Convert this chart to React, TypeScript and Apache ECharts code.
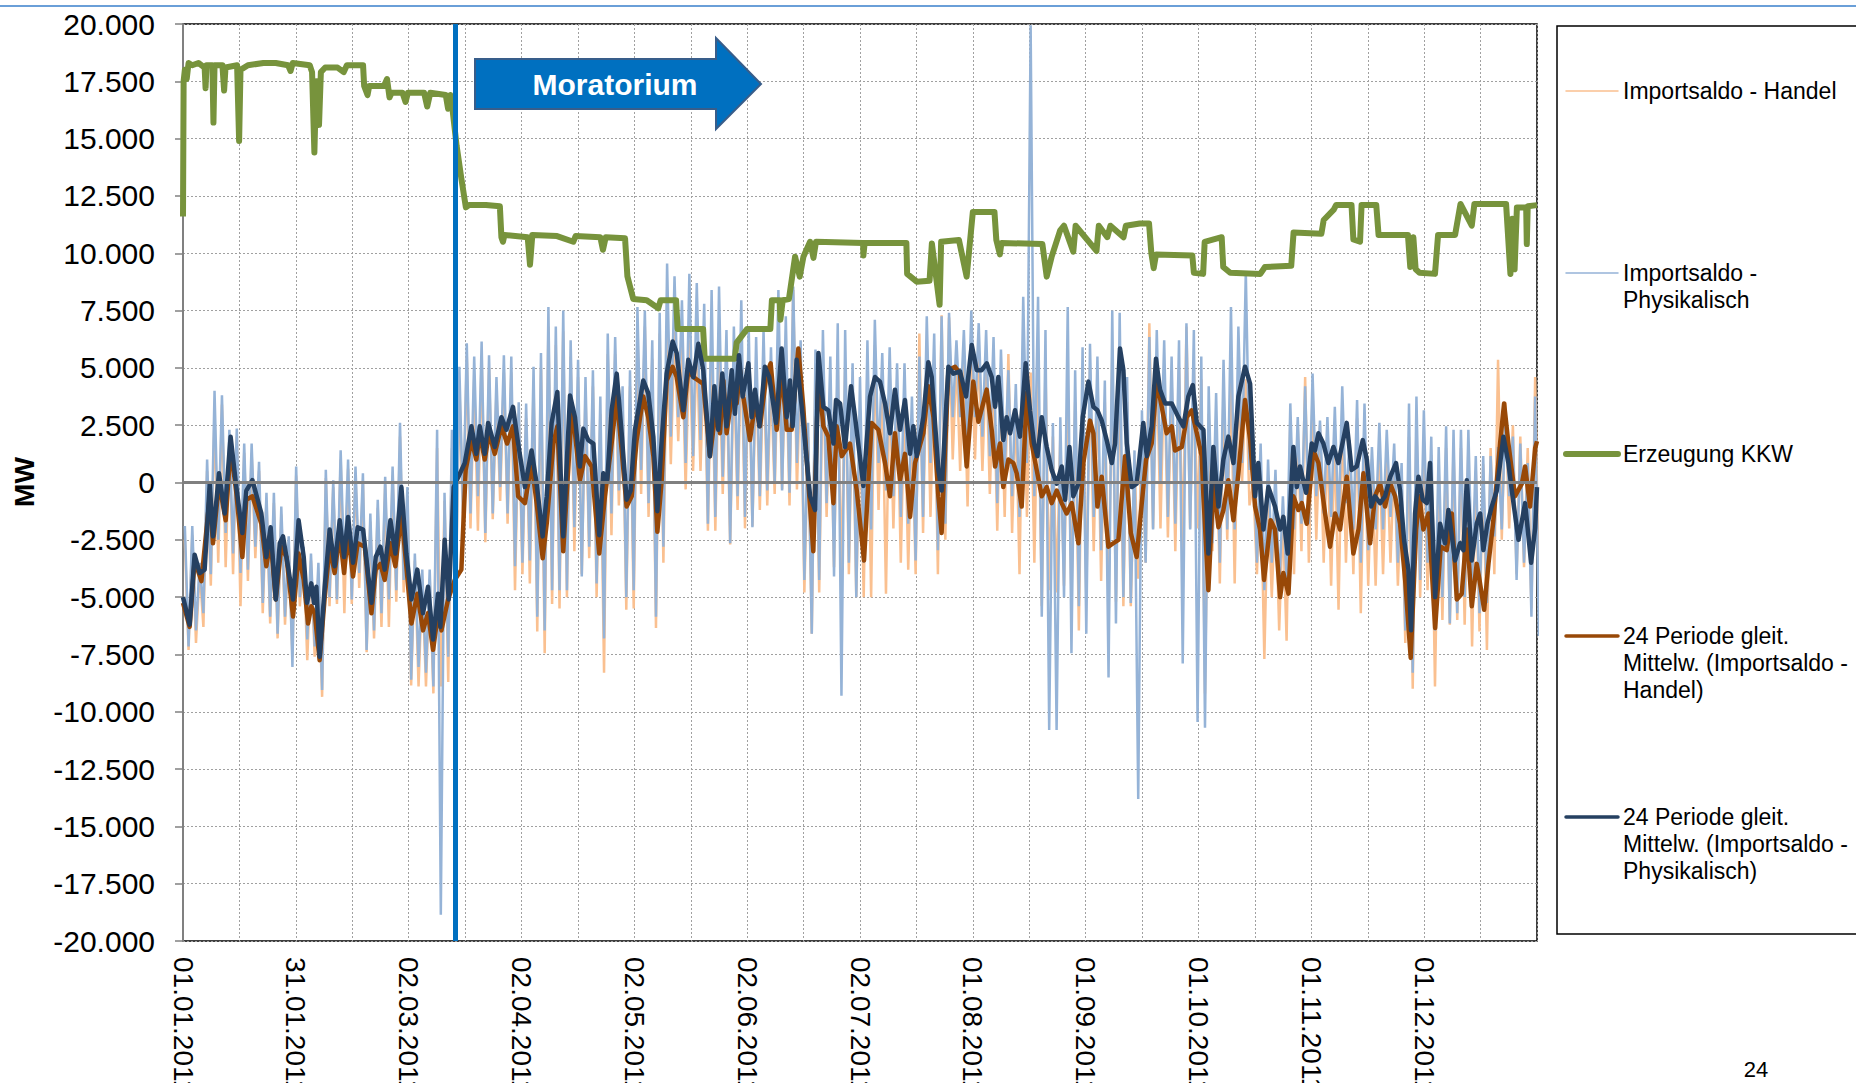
import React, { useEffect, useRef } from "react";
import * as echarts from "echarts";

// X axis: hours of 2011 (0 .. 8760); tick labels every 730 hours
const xTickLabels = ["01.01.2011", "31.01.2011", "02.03.2011", "02.04.2011", "02.05.2011", "02.06.2011", "02.07.2011", "01.08.2011", "01.09.2011", "01.10.2011", "01.11.2011", "01.12.2011"];
const HOURS_PER_LABEL = 730;
const GRID_HOURS = 365;
const TOTAL_HOURS = 8760;
const BIN_HOURS = 48;
const moratoriumHour = 1764;

// Erzeugung KKW [hour, MW]
const kkw: [number, number][] = [
  [0, 11600], [4, 17500], [12, 18000], [24, 17600], [36, 18300], [60, 18200], [100, 18300], [140, 18100], [146, 17200], [152, 18200], [190, 18200], [197, 15700], [204, 18200], [255, 18200], [266, 17100], [275, 18100], [350, 18200], [363, 14900], [372, 18000], [420, 18200], [520, 18300], [600, 18300], [680, 18200], [696, 17950], [710, 18300], [820, 18200], [835, 17900], [850, 14400], [862, 17500], [880, 15600], [892, 17900], [920, 18100], [1000, 18100], [1040, 17900], [1060, 18200], [1165, 18200], [1172, 17300], [1194, 16900], [1205, 17300], [1300, 17300], [1320, 17600], [1336, 16800], [1350, 17000], [1420, 17000], [1440, 16600], [1455, 17000], [1560, 17000], [1580, 16400], [1600, 17000], [1700, 16900], [1715, 16300], [1730, 16900], [1745, 16200], [1770, 14700], [1800, 13300], [1830, 12000], [1850, 12100], [1960, 12100], [2050, 12050], [2060, 10700], [2070, 10500], [2080, 10800], [2230, 10700], [2245, 9500], [2260, 10800], [2420, 10750], [2525, 10500], [2540, 10750], [2700, 10700], [2717, 10150], [2735, 10700], [2860, 10650], [2875, 9000], [2913, 8000], [3000, 7950], [3075, 7600], [3090, 7950], [3190, 7950], [3200, 6700], [3365, 6700], [3375, 5400], [3570, 5400], [3582, 6100], [3650, 6700], [3800, 6700], [3810, 7950], [3860, 7950], [3865, 7100], [3880, 7950], [3920, 8000], [3960, 9850], [3990, 8980], [4014, 9850], [4057, 10500], [4079, 9800], [4095, 10500], [4400, 10450], [4402, 9900], [4410, 10450], [4680, 10450], [4685, 9100], [4747, 8760], [4830, 8800], [4845, 10430], [4895, 7750], [4905, 10500], [5020, 10580], [5070, 8980], [5110, 11800], [5250, 11800], [5262, 10580], [5285, 9950], [5295, 10450], [5560, 10400], [5588, 8980], [5620, 9850], [5675, 11000], [5700, 11200], [5760, 10070], [5775, 11200], [5910, 10100], [5925, 11200], [5980, 10700], [6000, 11200], [6085, 10700], [6100, 11200], [6190, 11300], [6250, 11300], [6265, 10000], [6280, 9350], [6295, 9950], [6530, 9900], [6540, 9150], [6600, 9100], [6610, 10500], [6720, 10700], [6730, 9400], [6775, 9150], [6970, 9100], [7000, 9400], [7170, 9450], [7185, 10900], [7365, 10850], [7380, 11450], [7445, 11900], [7460, 12100], [7560, 12100], [7572, 10600], [7615, 10500], [7625, 12100], [7720, 12100], [7735, 10800], [7925, 10800], [7940, 9400], [7960, 10700], [7975, 9300], [8000, 9150], [8100, 9100], [8120, 10800], [8230, 10800], [8265, 12150], [8338, 11200], [8355, 12150], [8560, 12150], [8588, 9100], [8600, 11500], [8615, 9300], [8630, 12000], [8690, 12000], [8694, 10400], [8700, 12050], [8760, 12100]
];

// 24 Periode gleit. Mittelw. (Importsaldo - Physikalisch) [hour, MW]
const physMa: [number, number][] = [
  [0, -5000], [43, -6200], [75, -3150], [108, -3950], [140, -3800], [173, -50], [194, -2350], [233, 400], [270, -1350], [308, 2000], [345, -200], [384, -2200], [410, -350], [449, 100], [507, -1350], [539, -3250], [567, -1950], [600, -5100], [626, -2650], [647, -2350], [679, -3650], [712, -5100], [748, -1650], [781, -3250], [802, -5250], [830, -4400], [848, -5250], [863, -4550], [884, -7600], [917, -4550], [949, -2050], [981, -3650], [1014, -1650], [1042, -3250], [1068, -1500], [1100, -3500], [1130, -1950], [1165, -2050], [1219, -5250], [1247, -3250], [1277, -2800], [1305, -3800], [1342, -1650], [1374, -3100], [1413, -200], [1445, -3100], [1478, -5100], [1516, -3800], [1553, -5700], [1585, -4550], [1618, -6850], [1650, -4850], [1665, -6300], [1693, -2500], [1719, -5100], [1751, -200], [1823, 850], [1866, 2450], [1898, 1250], [1920, 2450], [1952, 1250], [1974, 2600], [2017, 1550], [2060, 2850], [2092, 2300], [2135, 3300], [2165, 1850], [2212, -200], [2255, 1400], [2288, -50], [2327, -2350], [2353, -600], [2385, 2600], [2422, 3950], [2460, -2350], [2504, 3800], [2536, 2850], [2568, 700], [2590, 2350], [2622, 1850], [2655, 1700], [2693, -2300], [2719, 400], [2745, 100], [2773, 3150], [2806, 4750], [2838, 2150], [2870, -750], [2896, -350], [2924, 2300], [2978, 4450], [3010, 3900], [3043, 2000], [3069, -1250], [3097, 1850], [3129, 4750], [3168, 6150], [3194, 5650], [3237, 3150], [3269, 5350], [3302, 4600], [3334, 6050], [3366, 4900], [3409, 1150], [3438, 4200], [3463, 2300], [3489, 4750], [3517, 2450], [3550, 4900], [3571, 3000], [3597, 5550], [3621, 3750], [3658, 5200], [3679, 2850], [3701, 4050], [3729, 2450], [3765, 5050], [3793, 4600], [3837, 2600], [3873, 5850], [3906, 2850], [3927, 4450], [3944, 2450], [3970, 5350], [4003, 3300], [4035, 1000], [4057, -600], [4089, -1200], [4111, 5650], [4143, 3300], [4175, 3150], [4208, 1700], [4225, 3600], [4251, 3450], [4283, 1550], [4322, 4200], [4348, 2850], [4402, -150], [4445, 3750], [4477, 4600], [4509, 4400], [4542, 3450], [4574, 2150], [4606, 4050], [4639, 2300], [4671, 3600], [4704, 1250], [4725, 2450], [4747, 1150], [4790, 2850], [4822, 5250], [4844, 4600], [4887, 550], [4908, -350], [4952, 5050], [4984, 4750], [5027, 4850], [5066, 3750], [5103, 6000], [5135, 4900], [5167, 4900], [5200, 5200], [5232, 4600], [5254, 3300], [5275, 4600], [5307, 1850], [5329, 2850], [5351, 2150], [5383, 3150], [5415, 2000], [5452, 5200], [5480, 3150], [5506, 1700], [5528, 1150], [5556, 2850], [5588, 1550], [5620, 550], [5653, -50], [5685, 700], [5707, -750], [5735, 1550], [5760, -600], [5793, -50], [5821, 2850], [5858, 4400], [5890, 3300], [5916, 3150], [5944, 2700], [5976, 1850], [6009, 850], [6030, 1700], [6062, 5850], [6084, 4900], [6106, 1700], [6138, -200], [6170, -50], [6213, 2600], [6235, 1150], [6267, 2450], [6295, 5400], [6321, 4050], [6354, 3450], [6397, 3450], [6440, 2850], [6472, 2450], [6504, 3750], [6533, 4250], [6559, 2600], [6602, 2300], [6634, -3100], [6666, 1550], [6699, -1050], [6731, 1000], [6763, 2000], [6796, 850], [6828, 3750], [6871, 5050], [6904, 4300], [6936, -600], [6957, 850], [6990, -2050], [7022, -200], [7065, -1050], [7098, -2050], [7119, -1500], [7147, -3100], [7184, 1550], [7206, -200], [7227, 700], [7266, -450], [7303, 1700], [7324, 1400], [7346, 2150], [7378, 1700], [7410, 850], [7443, 1550], [7475, 850], [7529, 2600], [7561, 550], [7594, 700], [7633, 1850], [7659, 1000], [7687, -1050], [7712, -600], [7745, -900], [7777, -600], [7810, 250], [7848, 850], [7874, -350], [7900, -2500], [7928, -3800], [7945, -6450], [7971, -1350], [7993, 250], [8021, -750], [8047, -900], [8068, 850], [8101, -5000], [8133, -1800], [8165, -2650], [8187, -1200], [8230, -3400], [8262, -2650], [8284, -2950], [8306, 100], [8338, -3400], [8370, -1800], [8392, -1350], [8413, -2950], [8439, -1800], [8467, -1050], [8500, -350], [8543, 2000], [8575, 850], [8597, -350], [8640, -2500], [8683, -900], [8722, -3500], [8748, -2000], [8760, -200]
];

// 24 Periode gleit. Mittelw. (Importsaldo - Handel) [hour, MW]
const handelMa: [number, number][] = [
  [0, -5250], [43, -6300], [75, -3400], [119, -4300], [173, -600], [194, -2650], [233, 0], [276, -1650], [308, 1550], [345, -450], [384, -3250], [410, -750], [449, -600], [507, -1800], [539, -3650], [567, -2500], [600, -5100], [636, -2800], [669, -3250], [712, -5850], [748, -3100], [781, -4250], [809, -6150], [830, -5400], [852, -5700], [884, -7750], [917, -5000], [949, -2800], [981, -3950], [1014, -2200], [1042, -3950], [1068, -2200], [1100, -4100], [1130, -2650], [1176, -2800], [1219, -5700], [1247, -3800], [1277, -3550], [1305, -4250], [1342, -2650], [1374, -3650], [1413, -1350], [1445, -3650], [1478, -6150], [1516, -4850], [1553, -6450], [1585, -5700], [1618, -7300], [1650, -5700], [1672, -6450], [1715, -5100], [1758, -4250], [1801, -3800], [1829, 550], [1866, 1850], [1898, 1000], [1920, 2150], [1952, 1000], [1980, 2150], [2017, 1250], [2060, 2450], [2097, 1700], [2135, 2450], [2168, -600], [2212, -900], [2255, 850], [2288, -900], [2327, -3300], [2353, -1800], [2396, 1700], [2422, 2450], [2460, -3000], [2514, 3000], [2536, 2150], [2568, 100], [2601, 1150], [2644, 700], [2693, -3100], [2730, -600], [2773, 1700], [2806, 3750], [2838, 1400], [2870, -1050], [2903, -600], [2935, 1850], [2978, 3750], [3010, 2850], [3043, 1150], [3069, -2150], [3097, 100], [3129, 4450], [3168, 5050], [3194, 4600], [3237, 2850], [3269, 4900], [3302, 4600], [3334, 4450], [3366, 4300], [3409, 1150], [3453, 3450], [3474, 2150], [3496, 4450], [3517, 2150], [3560, 4200], [3582, 3450], [3604, 4900], [3625, 3750], [3668, 1850], [3701, 3450], [3733, 2450], [3776, 4750], [3802, 5200], [3841, 2300], [3873, 4900], [3906, 2300], [3938, 2300], [3981, 5850], [4013, 3300], [4035, 1000], [4078, -3000], [4111, 4750], [4143, 2450], [4175, 2000], [4208, -900], [4229, 2450], [4262, 1150], [4315, 1700], [4359, -350], [4406, -3400], [4455, 2600], [4499, 2300], [4542, 850], [4574, -600], [4606, 2150], [4639, 100], [4671, 1250], [4704, -1500], [4736, 850], [4790, 2150], [4822, 4200], [4855, 2850], [4887, -600], [4908, -2200], [4952, 4900], [4995, 5050], [5027, 4750], [5070, 700], [5113, 4400], [5146, 2650], [5200, 4050], [5232, 2300], [5254, 700], [5286, 1700], [5307, -200], [5340, 1000], [5372, 850], [5394, 400], [5426, -1050], [5459, 3900], [5491, 1700], [5523, 550], [5556, -600], [5588, -200], [5620, -900], [5653, -350], [5685, -900], [5717, -1350], [5750, -900], [5793, -2650], [5825, 850], [5868, 2700], [5890, 2150], [5916, -1050], [5944, 250], [5987, -2800], [6019, -2650], [6052, -2500], [6095, 1150], [6132, -2200], [6170, -3250], [6203, -900], [6231, 1000], [6267, 1700], [6300, 4450], [6332, 3300], [6364, 2150], [6397, 2450], [6418, 1400], [6462, 1550], [6494, 2850], [6526, 3150], [6559, 2150], [6591, 1150], [6602, -600], [6634, -4700], [6666, -50], [6699, -1950], [6731, -1200], [6763, 100], [6796, -1650], [6828, 400], [6871, 3600], [6904, 1850], [6936, -1050], [6968, -2050], [6994, -4250], [7037, -1650], [7065, -2050], [7098, -5000], [7119, -3950], [7152, -4850], [7184, -600], [7216, -1200], [7238, -900], [7270, -1800], [7313, 1400], [7346, 850], [7389, -1350], [7421, -2800], [7454, -1350], [7486, -2050], [7529, 250], [7572, -3100], [7605, -2050], [7637, 400], [7680, -2650], [7712, -600], [7745, -50], [7777, -1050], [7810, -50], [7842, -600], [7874, -1800], [7907, -4250], [7943, -7650], [7978, -2050], [7999, -600], [8025, -2050], [8058, -1350], [8101, -6350], [8137, -2800], [8176, -2950], [8209, -1350], [8241, -5100], [8273, -4850], [8306, -2050], [8338, -5400], [8370, -3550], [8388, -4250], [8418, -5550], [8446, -3550], [8478, -1650], [8521, 1700], [8547, 3450], [8575, 1700], [8618, -600], [8662, -50], [8683, 700], [8715, -1050], [8748, 1500], [8760, 1800]
];

// Importsaldo - Physikalisch: highest / lowest hourly value per 48-hour bin
const physHi = [-1900, -1900, -3500, 1000, 4000, 3800, 2300, 2350, 1700, 1700, 900, -450, -450, -1050, -2350, 700, -2800, -3100, -3500, 550, 100, 1400, 1000, 700, 400, -1350, -750, 250, 700, 2600, -200, -3100, -3800, -3800, 2300, -450, 2300, 5050, 6070, 5500, 6150, 5550, 4600, 5550, 5500, 3500, 3450, 5050, 5650, 7650, 6800, 7500, 6200, 5350, 4600, 4900, 3750, 6500, 6350, 4200, 4900, 7650, 7500, 6200, 7400, 9550, 9000, 7950, 9100, 8700, 7800, 8400, 8550, 6650, 6800, 7950, 6800, 6350, 6650, 5900, 8400, 7250, 8550, 6200, 2600, 5800, 6650, 5500, 6950, 6650, 5200, 4600, 6200, 7100, 5650, 5900, 5200, 5200, 3750, 5500, 7250, 6500, 7250, 7400, 6200, 6650, 7500, 6950, 6650, 6350, 5800, 4900, 4300, 8100, 19950, 8100, 6650, 2600, 2850, 7650, 4900, 5900, 6050, 5500, 4450, 7500, 7400, 4600, 1400, 3150, 6350, 6650, 6200, 5500, 6200, 6950, 6650, 5500, 4200, 3900, 5350, 7650, 6800, 9200, 1850, 1700, 1000, 550, -600, 3450, 2850, 4200, 4750, 2700, 2850, 3300, 4200, 1850, 3600, 3450, 1550, 2600, 2300, 1700, 850, 3450, 3750, 3150, 2000, 1550, 2450, 2300, 2300, 2300, 1150, 1150, 1150, 1550, 3000, 2000, 1700, 850, 3750];
const physLo = [-7150, -6450, -5700, -4000, -2500, -2200, -3100, -3950, -3800, -2800, -5250, -5850, -6600, -5850, -8050, -5000, -6850, -7150, -9050, -5000, -5100, -3950, -5100, -3950, -7300, -6450, -5700, -5100, -4700, -4250, -8600, -8050, -8300, -8900, -18850, -7600, -5500, -1350, -1350, -600, -2200, -1350, -200, -1350, -3650, -3500, -3400, -5850, -6450, -4700, -4700, -4700, -1950, -4100, -2800, -4400, -6800, -1350, -350, -5000, -4700, 550, -900, -5850, -2800, 2000, 2850, 850, 1150, 1850, -1800, -1500, 250, -2650, -600, -1500, -1950, -600, -350, 0, -350, -450, 850, -4250, -6600, -4250, -900, -4100, -9300, -3500, -5000, -3500, -2050, 850, -350, -600, -1500, -1800, -3400, -1500, 850, -2950, -1800, 2850, 2850, 1700, 2850, 2000, 1150, -900, 550, -600, -1500, 850, -600, -5850, -10800, -10800, -5000, -7450, -5400, -6600, -1500, -2950, -8500, -6150, -5000, -5250, -13800, -3500, -2050, 0, -1500, -1800, -7900, -2050, -10450, -10700, -2650, -3500, -2050, -2050, 850, 550, -3500, -4700, -3500, -4700, -4250, -2050, -1800, -1800, -600, -1350, -1500, -2050, -900, -2050, -3500, -2950, -2050, -2050, -1500, -3500, -6450, -8300, -4250, -3500, -6450, -5000, -6150, -5700, -5000, -4250, -5700, -5250, -2350, -2050, -600, -4250, -3500, -5850, -6700];

// Importsaldo - Handel: highest / lowest hourly value per 48-hour bin
const handelHi = [-2500, -2300, -3800, 500, 3000, 3400, 1800, 2000, 1300, 1300, 500, -800, -900, -1400, -2700, 300, -3100, -3400, -4000, 200, -200, 1000, 600, 300, 0, -1700, -1100, -100, 300, 2000, -600, -3400, -4200, -4200, 1500, -800, 1500, 4300, 5500, 4500, 5500, 5000, 4000, 4800, 4800, 3000, 2800, 4300, 5000, 6800, 6000, 6600, 5500, 4600, 3900, 4200, 3000, 5600, 5600, 3500, 4200, 6600, 6800, 5400, 6500, 7000, 6600, 6500, 6200, 6000, 5800, 6300, 6000, 5000, 5200, 6200, 5500, 5000, 5400, 4600, 6300, 5800, 8400, 5200, 2000, 4800, 5200, 4300, 5400, 5000, 4000, 3000, 5000, 6000, 4500, 4800, 4000, 4000, 2800, 6500, 6000, 5000, 7300, 7200, 5500, 5500, 6500, 5800, 5500, 5000, 4800, 5600, 3500, 6000, 4800, 5000, 5000, 2000, 2000, 4000, 3500, 4500, 5000, 4000, 3500, 5500, 5000, 3500, 1000, 2500, 6950, 5500, 5000, 4500, 5000, 6800, 5000, 4500, 3000, 2500, 4000, 5000, 4500, 4500, 0, 300, -400, -700, -1500, 2800, 2500, 4600, 4000, 2500, 2000, 2000, 3000, 1500, 2800, 2300, 1000, 1500, 1500, 1000, 0, 2000, 2500, 1800, 1200, 500, 1500, 1500, 1500, 1500, 500, 800, 1500, 5350, 3500, 2500, 2000, 1500, 4600];
const handelLo = [-7300, -7000, -6300, -4500, -3500, -3700, -4000, -5400, -4300, -3300, -5700, -6150, -6800, -6200, -7600, -5400, -7750, -7600, -9350, -5400, -5300, -5700, -5300, -4600, -7400, -6800, -6300, -6300, -5200, -4800, -8850, -8900, -8900, -9200, -8900, -8700, -5500, -1900, -2000, -2100, -2600, -1600, -800, -1800, -4700, -4000, -4400, -6500, -7450, -5300, -5500, -5000, -3000, -4000, -3300, -5000, -8300, -2300, -1000, -5550, -5500, -500, -1500, -6350, -3500, 800, 1800, -300, 500, 500, -2100, -2100, -500, -2700, -1200, -2000, -1900, -1200, -1000, -500, -300, -1000, -300, -4800, -6600, -4800, -1500, -3700, -4500, -4000, -5000, -5000, -5000, -1200, -4850, -2000, -3500, -3800, -4000, -2200, -1500, -4000, -2500, 1000, 500, -1050, 1000, 500, -500, -2100, -1500, -2200, -4000, -1500, -3500, -5400, -4700, -4800, -4500, -5000, -6450, -5000, -3000, -4300, -5100, -5200, -5400, -5400, -4200, -3500, -2000, -2000, -2400, -3000, -3000, -2000, -2000, -9200, -3000, -4400, -2500, -4400, 0, -1000, -4000, -7700, -5000, -6450, -6900, -4000, -3000, -3500, -2500, -3500, -4500, -5550, -3500, -4000, -5700, -4500, -4500, -4000, -3500, -4500, -7000, -9000, -5000, -4700, -8900, -6000, -6200, -6000, -6200, -7150, -6500, -7300, -4000, -2500, -2000, -4000, -3700, -5500, -5000];

const FONT = '"Liberation Sans", Arial, Helvetica, sans-serif';

function binsToSeries(hi: number[], lo: number[]): [number, number][] {
  const out: [number, number][] = [];
  for (let k = 0; k < hi.length; k++) {
    out.push([k * BIN_HOURS + BIN_HOURS / 4, hi[k]]);
    out.push([k * BIN_HOURS + (3 * BIN_HOURS) / 4, lo[k]]);
  }
  return out;
}

function fmtThousands(v: number): string {
  const s = Math.abs(v).toString().replace(/\B(?=(\d{3})+(?!\d))/g, ".");
  return (v < 0 ? "-" : "") + s;
}

const legendEntries = [
  { label: "Importsaldo - Handel", color: "#FAC090", width: 1.5, y: 91 },
  { label: "Importsaldo -\nPhysikalisch", color: "#95B3D7", width: 1.5, y: 273 },
  { label: "Erzeugung KKW", color: "#77933C", width: 6, y: 454 },
  { label: "24 Periode gleit.\nMittelw. (Importsaldo -\nHandel)", color: "#984807", width: 3.5, y: 636 },
  { label: "24 Periode gleit.\nMittelw. (Importsaldo -\nPhysikalisch)", color: "#254061", width: 3.5, y: 817 },
];

export default function App() {
  const ref = useRef<HTMLDivElement>(null);
  useEffect(() => {
    if (!ref.current) return;
    const chart = echarts.init(ref.current, undefined, { renderer: "svg" });
    const gridLine = { show: true, lineStyle: { color: "#A0A0A0", type: [2, 2] as any, width: 1 } };
    const lineBase = { type: "line" as const, showSymbol: false, symbol: "none", silent: true, animation: false, emphasis: { disabled: true } };

    const legendGraphics: any[] = [
      { type: "rect", shape: { x: 1557, y: 26, width: 330, height: 908 }, style: { fill: "#fff", stroke: "#000", lineWidth: 1.5 } },
    ];
    legendEntries.forEach((e) => {
      legendGraphics.push({ type: "line", shape: { x1: 1566, y1: e.y, x2: 1618, y2: e.y }, style: { stroke: e.color, lineWidth: e.width, lineCap: "round" } });
      legendGraphics.push({ type: "text", x: 1623, y: e.y - 13.5, style: { text: e.label, font: `23px ${FONT}`, lineHeight: 27, fill: "#000", align: "left", verticalAlign: "top" } });
    });

    chart.setOption({
      animation: false,
      backgroundColor: "#fff",
      grid: { left: 183, top: 24, width: 1354, height: 917, show: true, borderColor: "#000", borderWidth: 1.5, containLabel: false, outerBoundsMode: "none" },
      xAxis: {
        type: "value", min: 0, max: TOTAL_HOURS, interval: GRID_HOURS,
        axisLine: { show: false }, axisTick: { show: false },
        axisLabel: {
          rotate: -90, margin: 16, fontSize: 28, fontFamily: FONT, color: "#000",
          formatter: (v: number) => (v % HOURS_PER_LABEL === 0 ? xTickLabels[v / HOURS_PER_LABEL] ?? "" : ""),
        },
        splitLine: gridLine,
      },
      yAxis: {
        type: "value", min: -20000, max: 20000, interval: 2500,
        axisLine: { show: true, lineStyle: { color: "#808080", width: 2 } },
        axisTick: { show: true, length: 8, lineStyle: { color: "#808080", width: 1.5 } },
        axisLabel: { formatter: fmtThousands, fontSize: 30, fontFamily: FONT, color: "#000", margin: 28 },
        splitLine: gridLine,
      },
      series: [
        {
          ...lineBase, name: "Importsaldo - Handel", data: binsToSeries(handelHi, handelLo),
          lineStyle: { color: "#FAC090", width: 2.5 }, itemStyle: { color: "#FAC090" },
          markLine: { silent: true, symbol: ["none", "none"], label: { show: false }, lineStyle: { color: "#808080", width: 3, type: "solid" }, data: [{ yAxis: 0 }] },
        },
        { ...lineBase, name: "Importsaldo - Physikalisch", data: binsToSeries(physHi, physLo), lineStyle: { color: "#95B3D7", width: 2.5 }, itemStyle: { color: "#95B3D7" } },
        { ...lineBase, name: "Erzeugung KKW", data: kkw, lineStyle: { color: "#77933C", width: 6, join: "round" }, itemStyle: { color: "#77933C" } },
        { ...lineBase, name: "24 Periode gleit. Mittelw. (Importsaldo - Handel)", data: handelMa, lineStyle: { color: "#984807", width: 4.5, join: "round" }, itemStyle: { color: "#984807" } },
        {
          ...lineBase, name: "24 Periode gleit. Mittelw. (Importsaldo - Physikalisch)", data: physMa,
          lineStyle: { color: "#254061", width: 4.5, join: "round" }, itemStyle: { color: "#254061" },
          markLine: { silent: true, symbol: ["none", "none"], label: { show: false }, lineStyle: { color: "#0070C0", width: 5, type: "solid" }, data: [{ xAxis: moratoriumHour }] },
        },
      ],
      graphic: [
        { type: "line", shape: { x1: 0, y1: 6, x2: 1856, y2: 6 }, style: { stroke: "#6A9FD8", lineWidth: 2 } },
        {
          type: "polygon", z: 100,
          shape: { points: [[475, 59], [716, 59], [716, 38], [761, 84], [716, 129], [716, 109], [475, 109]] },
          style: { fill: "#0070C0", stroke: "#385D8A", lineWidth: 2 },
        },
        { type: "text", z: 101, x: 615, y: 84, style: { text: "Moratorium", font: `bold 30px ${FONT}`, fill: "#fff", align: "center", verticalAlign: "middle" } },
        { type: "text", x: 24, y: 482, rotation: Math.PI / 2, style: { text: "MW", font: `bold 28px ${FONT}`, fill: "#000", align: "center", verticalAlign: "middle" } },
        { type: "text", x: 1756, y: 1069, style: { text: "24", font: `22px ${FONT}`, fill: "#000", align: "center", verticalAlign: "middle" } },
        ...legendGraphics,
      ],
    });
    return () => chart.dispose();
  }, []);
  return <div ref={ref} style={{ position: "fixed", left: 0, top: 0, width: 1856, height: 1083 }} />;
}
